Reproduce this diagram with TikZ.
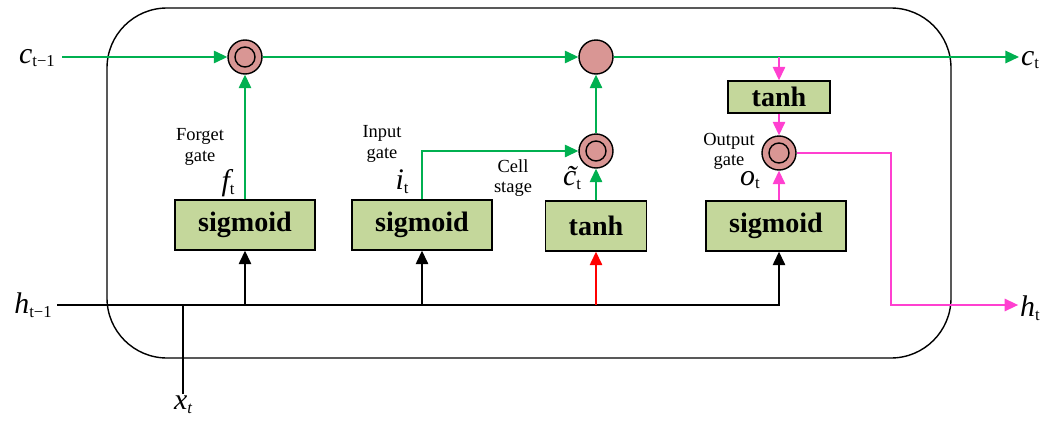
\documentclass[tikz,border=0pt]{standalone}
\usepackage{fontspec}
\setmainfont{Liberation Serif}
\usetikzlibrary{arrows.meta,positioning}

\definecolor{lstmgreen}{HTML}{00B050}
\definecolor{lstmpink}{HTML}{FF40D0}
\definecolor{boxgreen}{HTML}{C4D79B}
\definecolor{dotred}{HTML}{D99694}

% variable with upright subscript
\newcommand{\lvar}[2]{{\fontsize{17}{17}\selectfont\itshape #1}{\fontsize{9.5}{9.5}\selectfont\raisebox{-0.5ex}{#2}}}

\begin{document}
\begin{tikzpicture}[
    x=0.02cm, y=-0.02cm,
    act/.style={draw, thick, fill=boxgreen, minimum height=1cm, minimum width=2.8cm, inner sep=0pt, font=\fontsize{16}{16}\selectfont\bfseries},
    addop/.style={circle, draw, thick, fill=dotred, minimum size=0.68cm, inner sep=0pt},
    mult/.style={addop, path picture={\draw[thick] (path picture bounding box.center) circle (0.2cm);}},
    lab/.style={font=\fontsize{10.5}{11.5}\selectfont, align=center, inner sep=1pt},
    var/.style={inner sep=1pt},
    arrow/.style={-{Triangle[length=0.27cm,width=0.25cm]}, thick},
    garrow/.style={arrow, lstmgreen},
    parrow/.style={arrow, lstmpink}
]
\useasboundingbox (0,0) rectangle (1051,426);

% Cell frame
\draw[thick, rounded corners=1.2cm] (107,8) rectangle (951,358);

% Inputs and outputs
\node[var] (cprev) at (37,58) {\lvar{c}{t−1}};
\node[var] (hprev) at (33,305) {\lvar{h}{t−1}};
\node[var] (ct) at (1030,60) {\lvar{c}{t}};
\node[var] (ht) at (1030,308) {\lvar{h}{t}};
\node[var] (xt) at (183,405) {{\fontsize{17}{17}\selectfont\itshape x}{\fontsize{9.5}{9.5}\selectfont\itshape\raisebox{-0.5ex}{t}}};

% Pointwise operations
\node[mult] (fmul) at (245,57) {};
\node[addop] (cadd) at (596,57) {};
\node[mult] (cmul) at (596,151) {};
\node[mult] (omul) at (779,153) {};

% Layers
\node[act] (fgate) at (245,225) {sigmoid};
\node[act] (igate) at (422,225) {sigmoid};
\node[act, minimum width=2.02cm] (ctanh) at (596,226) {tanh};
\node[act] (ogate) at (776,226) {sigmoid};
\node[act, minimum width=2.04cm, minimum height=0.64cm] (otanh) at (779,97) {tanh};

% Labels
\node[lab] at (200,147) {Forget\\gate};
\node[var] at (228,183) {\lvar{f}{t}};
\node[lab] at (382,144) {Input\\gate};
\node[var] at (402,182) {\lvar{i}{t}};
\node[lab] at (513,178) {Cell\\stage};
\node[var] at (572,178) {\lvar{\~{c}}{t}};
\node[lab] at (729,151) {Output\\gate};
\node[var] at (750,180) {\lvar{o}{t}};

% Cell state
\draw[garrow, shorten <=3pt] (cprev.east |- fmul) -- (fmul.west);
\draw[garrow] (fmul.east) -- (cadd.west);
\draw[garrow] (cadd.east) -- (ct.west |- cadd);
\draw[garrow] (fgate.north) -- (fmul.south);
\draw[garrow] (igate.north) |- (cmul.west);
\draw[garrow] (ctanh.north) -- (cmul.south);
\draw[garrow] (cmul.north) -- (cadd.south);

% Output path
\coordinate (hbend) at (891,305);
\draw[parrow] (otanh.north |- cadd) -- (otanh.north);
\draw[parrow] (otanh.south) -- (omul.north);
\draw[parrow] (ogate.north -| omul) -- (omul.south);
\draw[parrow] (omul.east) -| (hbend) -- (ht.west |- hbend);

% Hidden state and input
\draw[arrow, shorten <=2pt] (hprev.east |- hbend) -| (ogate.south -| omul);
\draw[arrow] (fgate |- hbend) -- (fgate.south);
\draw[arrow] (igate |- hbend) -- (igate.south);
\draw[arrow, red] (ctanh |- hbend) -- (ctanh.south);
\draw[thick] (xt.north) -- (xt |- hbend);

\end{tikzpicture}
\end{document}
